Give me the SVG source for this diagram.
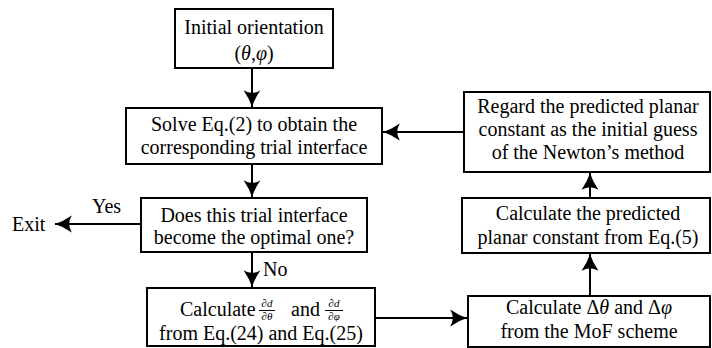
<svg xmlns="http://www.w3.org/2000/svg" width="712" height="348" viewBox="0 0 712 348">
<defs>
<marker id="ah" markerUnits="userSpaceOnUse" markerWidth="20" markerHeight="20" viewBox="-17 -9 19 18" refX="0" refY="0" orient="auto">
<path d="M0,0 Q-8,-2.5 -16,-8 Q-11,0 -16,8 Q-8,2.5 0,0 Z" fill="#000"/>
</marker>
<style>
rect{fill:#fff;stroke:#000;stroke-width:2}
text{font-family:"Liberation Serif","Times New Roman",serif;font-size:20px;fill:#000}
.c{text-anchor:middle}
.m{font-style:italic}
.s{font-size:11px}
.e{stroke:#000;stroke-width:2;fill:none;marker-end:url(#ah)}
</style>
</defs>
<g id="connectors">
<line class="e" x1="252" y1="68" x2="252" y2="107"/>
<line class="e" x1="252" y1="164" x2="252" y2="197"/>
<line class="e" x1="252" y1="252" x2="252" y2="287"/>
<line class="e" x1="141" y1="224" x2="55" y2="224"/>
<line class="e" x1="375" y1="318" x2="467" y2="318"/>
<line class="e" x1="590" y1="296" x2="590" y2="254"/>
<line class="e" x1="590" y1="198" x2="590" y2="173"/>
<line class="e" x1="464" y1="132" x2="383" y2="132"/>
<text x="92" y="213">Yes</text>
<text x="12" y="231">Exit</text>
<text x="263" y="276">No</text>
</g>
<g id="n1">
<rect x="175" y="9" width="158" height="59"/>
<text class="c" x="254" y="34">Initial orientation</text>
<text class="c" x="254" y="60">(<tspan class="m">θ</tspan>,<tspan class="m">φ</tspan>)</text>
</g>
<g id="n2">
<rect x="126" y="108" width="256" height="56"/>
<text class="c" x="254" y="131">Solve Eq.(2) to obtain the</text>
<text class="c" x="254" y="154">corresponding trial interface</text>
</g>
<g id="n3">
<rect x="141" y="198" width="226" height="54"/>
<text class="c" x="254" y="222">Does this trial interface</text>
<text class="c" x="254" y="244">become the optimal one?</text>
</g>
<g id="n4">
<rect x="147" y="288" width="228" height="58"/>
<text x="180" y="316">Calculate</text>
<text class="c s" x="267" y="307">∂<tspan class="m">d</tspan></text>
<line x1="259" y1="310.5" x2="275" y2="310.5" stroke="#000" stroke-width="1"/>
<text class="c s" x="267" y="320">∂<tspan class="m">θ</tspan></text>
<text x="291" y="316">and</text>
<text class="c s" x="334" y="307">∂<tspan class="m">d</tspan></text>
<line x1="325" y1="310.5" x2="343" y2="310.5" stroke="#000" stroke-width="1"/>
<text class="c s" x="334" y="320">∂<tspan class="m">φ</tspan></text>
<text class="c" x="261" y="340">from Eq.(24) and Eq.(25)</text>
</g>
<g id="n5">
<rect x="464" y="92" width="246" height="80"/>
<text class="c" x="588" y="113">Regard the predicted planar</text>
<text class="c" x="588" y="136">constant as the initial guess</text>
<text class="c" x="588" y="159">of the Newton’s method</text>
</g>
<g id="n6">
<rect x="462" y="198" width="248" height="55"/>
<text class="c" x="588" y="220">Calculate the predicted</text>
<text class="c" x="588" y="244">planar constant from Eq.(5)</text>
</g>
<g id="n7">
<rect x="468" y="296" width="242" height="51"/>
<text class="c" x="589" y="314">Calculate Δ<tspan class="m">θ</tspan> and Δ<tspan class="m">φ</tspan></text>
<text class="c" x="589" y="338">from the MoF scheme</text>
</g>
</svg>
